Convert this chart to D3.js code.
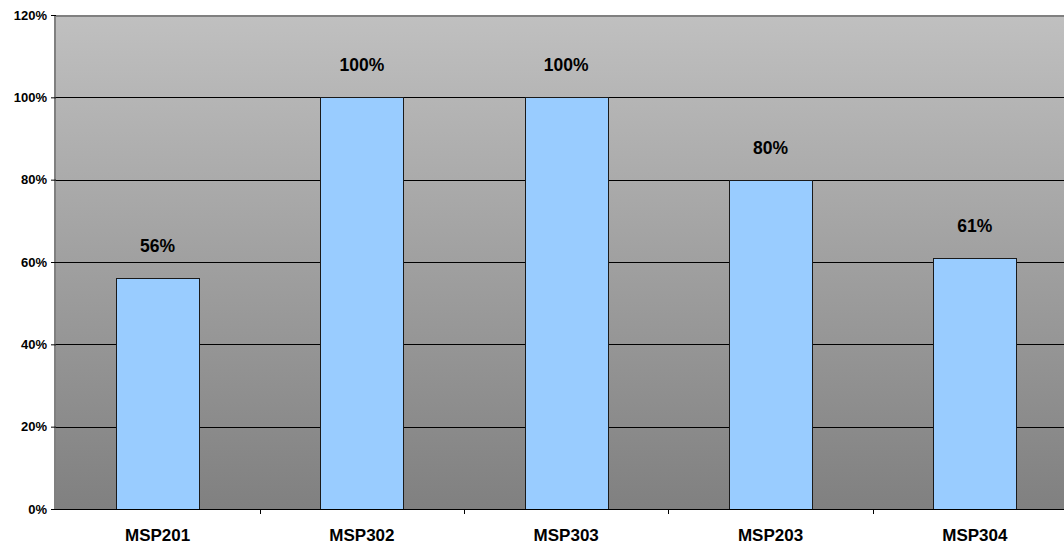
<!DOCTYPE html>
<html><head><meta charset="utf-8">
<script src="https://cdn.jsdelivr.net/npm/d3@7"></script>
<style>html,body{margin:0;padding:0;background:#fff;overflow:hidden}</style>
</head><body>
<svg id="chart" width="1064" height="544"></svg>
<script>
const categories = ["MSP201","MSP302","MSP303","MSP203","MSP304"];
const values = [0.56, 1.00, 1.00, 0.80, 0.61];
const valueLabels = ["56%","100%","100%","80%","61%"];
const yTicks = [0,0.2,0.4,0.6,0.8,1.0,1.2];

(function(){
const svg = d3.select("#chart");
const mLeft = 55.4, mTop = 15, mBottom = 509, mRight = 1077;
const x = d3.scaleBand().domain(categories).range([mLeft, mRight]).paddingInner(0).paddingOuter(0);
const y = d3.scaleLinear().domain([0,1.2]).range([mBottom, mTop]);
const font = "'Liberation Sans', Arial, sans-serif";

const defs = svg.append("defs");
const grad = defs.append("linearGradient").attr("id","bg").attr("x1",0).attr("y1",0).attr("x2",0).attr("y2",1);
grad.append("stop").attr("offset","0%").attr("stop-color","#c0c0c0");
grad.append("stop").attr("offset","100%").attr("stop-color","#808080");

svg.append("rect").attr("x",56).attr("y",mTop).attr("width",mRight-56).attr("height",mBottom-mTop).attr("fill","url(#bg)");

// gridlines
svg.append("g").selectAll("line").data(yTicks.filter(t=>t>0 && t<1.2)).join("line")
  .attr("x1",56).attr("x2",mRight).attr("y1",d=>Math.round(y(d))+0.5).attr("y2",d=>Math.round(y(d))+0.5)
  .attr("stroke","#000").attr("stroke-width",1);

// top border
svg.append("line").attr("x1",56).attr("x2",mRight).attr("y1",mTop+1).attr("y2",mTop+1).attr("stroke","#808080").attr("stroke-width",2);

// bars
const bw = x.bandwidth()*0.406;
svg.append("g").selectAll("rect").data(values).join("rect")
  .attr("x",(d,i)=>Math.round(x(categories[i])+(x.bandwidth()-bw)/2)+0.5)
  .attr("y",d=>Math.round(y(d))+0.5)
  .attr("width",Math.round(bw))
  .attr("height",d=>mBottom-Math.round(y(d)))
  .attr("fill","#99ccff").attr("stroke","#1a1a1a").attr("stroke-width",1);

// value labels
svg.append("g").selectAll("text").data(values).join("text")
  .attr("x",(d,i)=>x(categories[i])+x.bandwidth()/2)
  .attr("y",d=>y(d)-26)
  .attr("text-anchor","middle").attr("font-family",font).attr("font-weight","bold").attr("font-size","17.5px").attr("fill","#000")
  .text((d,i)=>valueLabels[i]);

// y axis
const yAxis = d3.axisLeft(y).tickValues(yTicks).tickFormat(d3.format(".0%")).tickSize(5).tickPadding(4);
const gy = svg.append("g").attr("transform",`translate(56,0)`).call(yAxis);
gy.select(".domain").attr("stroke","#808080").attr("stroke-width",2).attr("d",`M-1,${mBottom}V${mTop}`);
gy.selectAll(".tick line").attr("stroke","#000");
gy.selectAll(".tick text").attr("font-family",font).attr("font-weight","bold").attr("font-size","13px").attr("fill","#000");

// x axis
const xAxis = d3.axisBottom(x).tickSize(0).tickPadding(20);
const gx = svg.append("g").attr("transform",`translate(0,${mBottom})`).call(xAxis);
gx.select(".domain").attr("stroke","#000").attr("stroke-width",1).attr("d",`M56,0.5H${mRight}`);
gx.selectAll(".tick text").attr("font-family",font).attr("font-weight","bold").attr("font-size","17px").attr("fill","#000").attr("dy","0.71em").attr("y",20);
// category boundary ticks
svg.append("g").selectAll("line").data(categories.slice(1)).join("line")
  .attr("x1",d=>Math.round(x(d))+0.5).attr("x2",d=>Math.round(x(d))+0.5)
  .attr("y1",mBottom).attr("y2",mBottom+5).attr("stroke","#000");
})();
</script>
</body></html>
